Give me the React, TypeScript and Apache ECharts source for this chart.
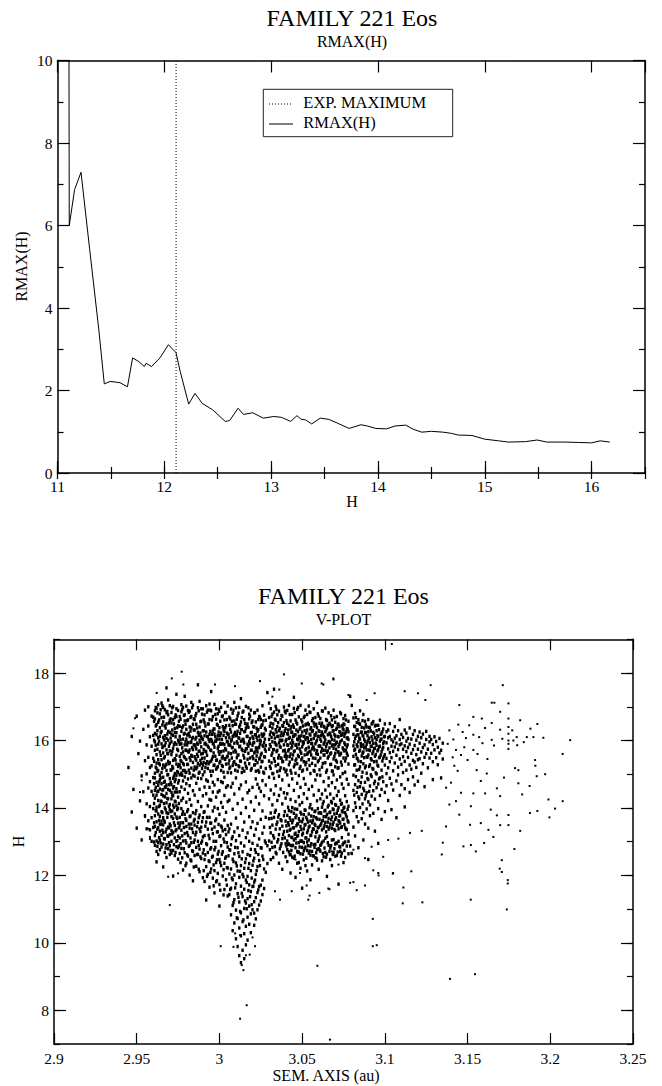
import React, { useEffect, useRef } from "react";
import * as echarts from "echarts";

// ---------- RMAX(H) panel ----------
const rmaxH = [11.105, 11.11, 11.16, 11.22, 11.3, 11.387, 11.438, 11.493, 11.584, 11.655, 11.703, 11.762, 11.813, 11.829, 11.88, 11.959, 12.038, 12.109, 12.149, 12.228, 12.287, 12.354, 12.453, 12.571, 12.611, 12.69, 12.741, 12.828, 12.927, 13.025, 13.096, 13.183, 13.242, 13.282, 13.32, 13.38, 13.46, 13.54, 13.62, 13.73, 13.84, 13.9, 13.98, 14.08, 14.16, 14.26, 14.33, 14.41, 14.5, 14.61, 14.69, 14.75, 14.88, 15.0, 15.13, 15.22, 15.38, 15.49, 15.58, 15.75, 15.88, 16.0, 16.08, 16.17];
const rmaxV = [14, 6.0, 6.87, 7.29, 5.45, 3.47, 2.16, 2.22, 2.19, 2.09, 2.79, 2.7, 2.58, 2.66, 2.58, 2.79, 3.11, 2.92, 2.46, 1.67, 1.93, 1.69, 1.53, 1.25, 1.27, 1.57, 1.42, 1.46, 1.33, 1.37, 1.35, 1.25, 1.39, 1.3, 1.29, 1.19, 1.33, 1.3, 1.21, 1.08, 1.17, 1.14, 1.08, 1.07, 1.14, 1.16, 1.06, 0.99, 1.01, 0.99, 0.96, 0.92, 0.91, 0.82, 0.78, 0.75, 0.76, 0.8, 0.75, 0.75, 0.74, 0.73, 0.78, 0.75];
const expMaximumH = 12.11;

// ---------- V-PLOT panel ----------
// columns: [a offset in 1/1000 au from 2.9, then H values in 1/100]
const vColsWest = [
  [45, 1520], [47, 1612, 1388], [48, 1455], [50, 1672, 1340], [51, 1561], [52, 1421, 1598], [53, 1495, 1305], [54, 1633, 1448],
  [55, 1540, 1377, 1690], [56, 1412, 1587, 1501, 1338], [57, 1643, 1459, 1362, 1550, 1700], [58, 1520, 1404, 1611, 1335, 1478],
  [59, 1583, 1449, 1672, 1371, 1525, 1301], [60, 1615, 1490, 1398, 1547, 1669, 1342, 1438],
  [61, 1318, 1452, 1596, 1377, 1664, 1503, 1429, 1571, 1345, 1688, 1489, 1621, 1289],
  [62, 1402, 1533, 1359, 1617, 1476, 1302, 1695, 1558, 1438, 1647, 1391, 1517, 1240, 1271],
  [63, 1467, 1341, 1589, 1654, 1422, 1511, 1382, 1608, 1297, 1543, 1706, 1449, 1262],
  [64, 1375, 1528, 1612, 1456, 1331, 1679, 1497, 1566, 1408, 1638, 1352, 1483, 1276, 1305],
  [65, 1543, 1419, 1668, 1361, 1590, 1472, 1319, 1627, 1505, 1440, 1711, 1389, 1284],
  [66, 1436, 1582, 1327, 1655, 1491, 1371, 1609, 1527, 1454, 1350, 1698, 1563, 1225, 1293],
  [67, 1358, 1614, 1479, 1400, 1552, 1691, 1308, 1521, 1643, 1433, 1585, 1462, 1268],
  [68, 1511, 1386, 1649, 1443, 1337, 1572, 1606, 1468, 1291, 1530, 1682, 1415, 1756, 1253],
  [69, 1427, 1561, 1343, 1676, 1499, 1384, 1627, 1455, 1538, 1316, 1601, 1720, 1279],
  [70, 1395, 1624, 1487, 1352, 1569, 1452, 1703, 1321, 1534, 1660, 1410, 1591, 1262, 1288],
  [71, 1469, 1333, 1596, 1427, 1652, 1513, 1374, 1558, 1301, 1683, 1446, 1619, 1266],
  [72, 1541, 1408, 1662, 1369, 1488, 1615, 1436, 1328, 1577, 1701, 1459, 1518, 1198, 1274],
  [73, 1382, 1636, 1502, 1447, 1348, 1593, 1668, 1420, 1546, 1311, 1478, 1624, 1259],
  [74, 1457, 1589, 1336, 1671, 1406, 1530, 1623, 1373, 1497, 1285, 1556, 1694, 1737, 1301],
  [75, 1523, 1399, 1644, 1474, 1355, 1601, 1432, 1570, 1316, 1689, 1505, 1248, 1282],
];

const vColsFunnel = [
  [76, 1612, 1498, 1671, 1553, 1527, 1642, 1448, 1372, 1311, 1265, 1589, 1347],
  [77, 1538, 1685, 1590, 1503, 1627, 1462, 1398, 1334, 1280, 1561, 1706, 1422],
  [78, 1566, 1643, 1511, 1698, 1604, 1429, 1356, 1302, 1389, 1532, 1216, 1480],
  [79, 1621, 1549, 1676, 1492, 1587, 1455, 1381, 1324, 1267, 1658, 1511, 1731],
  [80, 1505, 1633, 1571, 1702, 1544, 1417, 1363, 1296, 1345, 1604, 1472, 1236],
  [81, 1594, 1529, 1661, 1486, 1618, 1443, 1395, 1318, 1257, 1567, 1689],
  [82, 1549, 1687, 1612, 1503, 1572, 1466, 1340, 1374, 1289, 1640, 1425, 1201],
  [83, 1637, 1518, 1596, 1671, 1489, 1408, 1352, 1297, 1243, 1556, 1713],
  [84, 1573, 1648, 1535, 1609, 1705, 1451, 1386, 1327, 1271, 1497, 1184],
  [85, 1521, 1662, 1587, 1494, 1631, 1438, 1366, 1305, 1349, 1552, 1259],
  [86, 1609, 1542, 1680, 1516, 1575, 1473, 1392, 1328, 1283, 1227, 1648],
  [87, 1553, 1697, 1624, 1488, 1589, 1419, 1357, 1301, 1262, 1532, 1765],
  [88, 1640, 1506, 1568, 1716, 1601, 1455, 1379, 1338, 1278, 1211, 1527],
  [89, 1581, 1657, 1532, 1611, 1487, 1404, 1343, 1296, 1250, 1694, 1560],
  [90, 1527, 1629, 1694, 1562, 1498, 1436, 1371, 1314, 1266, 1193, 1603],
  [91, 1614, 1548, 1676, 1507, 1590, 1462, 1389, 1318, 1247, 1182, 1653],
  [92, 1566, 1703, 1625, 1531, 1442, 1358, 1294, 1226, 1588, 1127, 1483],
  [93, 1649, 1517, 1583, 1690, 1479, 1406, 1337, 1268, 1203, 1611],
  [94, 1597, 1662, 1536, 1618, 1461, 1372, 1309, 1241, 1165, 1708, 1425],
  [95, 1539, 1688, 1603, 1570, 1423, 1355, 1282, 1219, 1496, 1745],
  [96, 1628, 1552, 1671, 1509, 1447, 1391, 1324, 1257, 1192, 1591, 1476],
  [97, 1580, 1707, 1634, 1527, 1468, 1343, 1276, 1214, 1148, 1619, 1402],
  [98, 1663, 1598, 1541, 1694, 1432, 1367, 1301, 1238, 1181, 1515],
  [99, 1522, 1645, 1577, 1615, 1484, 1398, 1329, 1263, 1206, 1679, 1447],
  [100, 1604, 1559, 1686, 1533, 1451, 1381, 1315, 1247, 1173, 1638, 1109],
  [101, 1567, 1698, 1622, 1511, 1416, 1346, 1288, 1229, 1589, 1478],
  [102, 1641, 1523, 1590, 1673, 1475, 1402, 1332, 1270, 1198, 1553],
  [103, 1588, 1661, 1546, 1627, 1437, 1364, 1299, 1236, 1158, 1712, 1491],
  [104, 1530, 1683, 1608, 1572, 1461, 1387, 1321, 1255, 1187, 1644],
  [105, 1619, 1554, 1702, 1505, 1419, 1348, 1284, 1222, 1139, 1596, 1466],
  [106, 1608, 1541, 1669, 1587, 1517, 1423, 1338, 1276, 1204, 1143, 1645],
  [107, 1561, 1693, 1625, 1504, 1462, 1352, 1291, 1219, 1162, 1083, 1598],
  [108, 1644, 1579, 1526, 1681, 1396, 1315, 1248, 1187, 1111, 1036, 1612, 1473],
  [109, 1592, 1658, 1537, 1619, 1441, 1329, 1264, 1201, 1128, 1059, 1713],
  [110, 1529, 1697, 1614, 1566, 1370, 1303, 1237, 1175, 1097, 1012, 1648, 1489],
  [111, 1627, 1556, 1673, 1509, 1413, 1341, 1282, 1213, 1146, 1072, 989, 1591],
  [112, 1581, 1640, 1522, 1698, 1457, 1318, 1256, 1194, 1121, 1044, 962, 1606],
  [113, 1655, 1598, 1538, 1632, 1384, 1296, 1229, 1168, 1089, 1021, 941, 1724, 1468],
  [114, 1603, 1684, 1517, 1570, 1426, 1334, 1270, 1203, 1137, 1063, 978],
  [115, 1548, 1662, 1626, 1593, 1358, 1287, 1221, 1159, 1102, 1027, 953, 1509],
  [116, 1636, 1575, 1701, 1523, 1401, 1312, 1249, 1186, 1118, 1049, 994, 1477],
  [117, 1589, 1649, 1544, 1612, 1445, 1326, 1262, 1197, 1131, 1076, 1008],
  [118, 1664, 1531, 1597, 1678, 1374, 1301, 1235, 1172, 1109, 1055, 1452],
  [119, 1571, 1623, 1690, 1512, 1418, 1342, 1277, 1214, 1152, 1086, 1030],
  [120, 1611, 1552, 1658, 1586, 1461, 1359, 1295, 1230, 1167, 1098],
  [121, 1640, 1527, 1594, 1682, 1563, 1393, 1319, 1251, 1180, 1122, 1088, 1052],
  [122, 1578, 1655, 1509, 1617, 1541, 1432, 1337, 1268, 1203, 1134, 1071, 1486],
  [123, 1627, 1690, 1566, 1534, 1600, 1470, 1354, 1289, 1226, 1149, 1098],
  [124, 1545, 1613, 1671, 1580, 1506, 1412, 1308, 1244, 1167, 1112, 1459],
  [125, 1662, 1598, 1521, 1639, 1557, 1449, 1366, 1282, 1171, 1124],
  [126, 1586, 1647, 1703, 1538, 1612, 1391, 1325, 1257, 1186, 1143, 1481],
  [127, 1619, 1552, 1675, 1594, 1503, 1436, 1343, 1219, 1161],
  [128, 1568, 1631, 1517, 1660, 1585, 1468, 1372, 1296, 1209],
];

const vColsMiddle = [
  [129, 1742, 1288, 1235],
  [130, 1603, 1539, 1668, 1491, 1574, 1427, 1368, 1302, 1711],
  [131, 1651, 1582, 1517, 1625, 1694, 1453, 1385, 1326, 1247],
  [132, 1563, 1637, 1596, 1502, 1678, 1409, 1349, 1283],
  [133, 1618, 1546, 1684, 1573, 1488, 1441, 1372, 1311, 1752],
  [134, 1589, 1660, 1525, 1632, 1701, 1466, 1393, 1337, 1268],
  [135, 1641, 1571, 1508, 1612, 1676, 1422, 1358, 1299],
  [136, 1556, 1629, 1687, 1593, 1494, 1437, 1380, 1321, 1236],
  [137, 1614, 1548, 1662, 1580, 1519, 1456, 1365, 1287],
  [138, 1672, 1601, 1537, 1644, 1483, 1412, 1346, 1309, 1218],
  [139, 1587, 1653, 1516, 1620, 1699, 1445, 1377, 1330],
  [140, 1635, 1562, 1682, 1598, 1507, 1429, 1361, 1294, 1255],
  [141, 1620, 1553, 1689, 1587, 1498, 1651, 1442, 1378, 1331, 1302, 1241, 1276],
  [142, 1573, 1645, 1528, 1606, 1704, 1467, 1392, 1349, 1318, 1270, 1293],
  [143, 1658, 1592, 1511, 1634, 1560, 1425, 1363, 1337, 1289, 1207, 1262],
  [144, 1601, 1677, 1545, 1624, 1584, 1486, 1401, 1356, 1312, 1254, 1288],
  [145, 1639, 1567, 1695, 1522, 1613, 1452, 1384, 1341, 1305, 1728, 1251],
  [146, 1586, 1661, 1540, 1617, 1503, 1419, 1371, 1325, 1282, 1194, 1309],
  [147, 1649, 1578, 1692, 1531, 1604, 1473, 1396, 1352, 1316, 1236, 1271],
  [148, 1612, 1552, 1670, 1589, 1496, 1433, 1368, 1330, 1269, 1297, 1238],
  [149, 1567, 1638, 1704, 1523, 1599, 1461, 1387, 1345, 1302, 1221, 1264],
  [150, 1625, 1581, 1655, 1509, 1548, 1416, 1359, 1320, 1283, 1162, 1301],
  [151, 1593, 1668, 1537, 1612, 1487, 1442, 1380, 1338, 1297, 1246, 1273],
  [152, 1646, 1572, 1690, 1528, 1603, 1470, 1393, 1351, 1311, 1284, 1229],
  [153, 1608, 1559, 1677, 1631, 1515, 1428, 1366, 1327, 1274, 1213, 1299],
  [154, 1580, 1647, 1597, 1543, 1702, 1455, 1382, 1343, 1305, 1266],
  [155, 1634, 1566, 1616, 1683, 1502, 1410, 1361, 1318, 1260, 1187, 1287],
  [156, 1591, 1659, 1532, 1627, 1575, 1464, 1397, 1356, 1329, 1231, 1271],
  [157, 1652, 1578, 1694, 1511, 1606, 1438, 1374, 1337, 1291, 1258],
  [158, 1615, 1547, 1668, 1590, 1526, 1483, 1391, 1348, 1314, 1252, 1292],
  [159, 1570, 1638, 1601, 1713, 1498, 1421, 1367, 1330, 1277, 1245],
  [160, 1629, 1583, 1672, 1541, 1612, 1452, 1385, 1343, 1308, 1218, 1279],
  [161, 1604, 1548, 1665, 1583, 1497, 1427, 1386, 1348, 1289, 1272],
  [162, 1651, 1576, 1625, 1521, 1688, 1441, 1402, 1361, 1335, 1243, 1298],
  [163, 1589, 1642, 1557, 1612, 1478, 1419, 1374, 1340, 1302, 1255],
  [164, 1626, 1571, 1696, 1534, 1602, 1453, 1393, 1357, 1268, 1310],
  [165, 1565, 1637, 1590, 1512, 1659, 1432, 1381, 1345, 1315, 1197, 1263],
  [166, 1618, 1553, 1682, 1597, 1489, 1466, 1408, 1369, 1337, 1289],
  [167, 1593, 1647, 1529, 1621, 1560, 1441, 1388, 1352, 1281, 1247],
  [168, 1641, 1584, 1661, 1509, 1603, 1475, 1415, 1373, 1340, 1229, 1305],
  [169, 1577, 1629, 1545, 1690, 1498, 1428, 1395, 1358, 1306, 1268],
  [170, 1613, 1562, 1654, 1587, 1522, 1460, 1410, 1366, 1333, 1257, 1293],
  [171, 1637, 1595, 1536, 1671, 1483, 1437, 1384, 1349, 1296, 1259],
  [172, 1582, 1648, 1611, 1519, 1566, 1449, 1401, 1362, 1338, 1174, 1301],
  [173, 1625, 1558, 1683, 1596, 1492, 1423, 1378, 1355, 1271, 1284],
  [174, 1601, 1644, 1527, 1617, 1471, 1413, 1391, 1344, 1312, 1266],
  [175, 1649, 1573, 1632, 1548, 1665, 1458, 1399, 1367, 1238, 1296],
  [176, 1588, 1621, 1506, 1674, 1539, 1436, 1386, 1341, 1299, 1253],
  [177, 1635, 1562, 1607, 1581, 1485, 1419, 1373, 1336, 1287],
  [178, 1603, 1657, 1530, 1626, 1470, 1405, 1358, 1322, 1264, 1301],
  [179, 1731, 1287],
  [180, 1265, 1704],
];

const vColsEast = [
  [181, 1618, 1553, 1667, 1497, 1584, 1452, 1392, 1343],
  [182, 1574, 1641, 1528, 1606, 1469, 1680, 1415, 1317],
  [183, 1631, 1587, 1512, 1653, 1446, 1548, 1374],
  [184, 1596, 1662, 1539, 1617, 1481, 1433, 1359, 1282],
  [185, 1648, 1571, 1604, 1522, 1463, 1688, 1401],
  [186, 1583, 1625, 1554, 1492, 1639, 1440, 1368],
  [187, 1613, 1566, 1677, 1531, 1458, 1587, 1386, 1305],
  [188, 1657, 1598, 1519, 1624, 1476, 1427, 1352],
  [189, 1572, 1640, 1589, 1503, 1551, 1445, 1397],
  [190, 1626, 1557, 1662, 1484, 1601, 1418, 1340, 1247],
  [191, 1594, 1637, 1528, 1570, 1465, 1409, 1377],
  [192, 1649, 1582, 1611, 1542, 1493, 1435],
  [193, 1567, 1624, 1591, 1515, 1656, 1451, 1384],
  [194, 1608, 1553, 1643, 1479, 1577, 1426, 1331],
  [195, 1586, 1629, 1538, 1501, 1603, 1460],
  [196, 1645, 1573, 1612, 1524, 1471, 1398, 1295],
  [197, 1598, 1551, 1660, 1583, 1489, 1437],
  [198, 1621, 1566, 1604, 1512, 1455, 1366],
  [199, 1579, 1634, 1547, 1591, 1478],
  [200, 1612, 1558, 1649, 1527, 1446, 1389],
  [201, 1593, 1547, 1626, 1502, 1466], [202, 1631, 1575, 1519, 1608, 1422], [203, 1564, 1612, 1488, 1650, 1537],
  [204, 1602, 1549, 1583, 1471, 1395], [205, 1627, 1568, 1510, 1596, 1453], [206, 1581, 1641, 1533, 1607],
  [207, 1614, 1556, 1592, 1480, 1371], [208, 1573, 1629, 1521, 1498], [209, 1603, 1545, 1662, 1587, 1437],
  [210, 1590, 1618, 1529, 1469], [211, 1552, 1609, 1574, 1505], [212, 1631, 1584, 1538, 1457, 1403],
  [213, 1567, 1598, 1512, 1622], [214, 1606, 1550, 1579, 1484], [215, 1589, 1637, 1527, 1446],
  [216, 1562, 1604, 1515], [217, 1618, 1573, 1541, 1492], [218, 1585, 1629, 1536, 1468],
  [219, 1601, 1558, 1520], [220, 1574, 1612, 1543, 1479],
  [221, 1592, 1546, 1625], [222, 1566, 1608, 1503], [223, 1619, 1579, 1531], [224, 1587, 1550, 1463],
  [225, 1603, 1561, 1627], [226, 1574, 1519], [227, 1596, 1548, 1612], [228, 1562, 1603],
  [229, 1588, 1537, 1484], [230, 1611, 1572], [231, 1549, 1597], [232, 1580, 1528],
  [233, 1606, 1563], [234, 1571, 1489], [235, 1592, 1545],
];

// in-between columns of the dense core (same encoding)
const vColsInter = [
  [60.5, 1356, 1472, 1538, 1601, 1657, 1413, 1299], [61.5, 1392, 1521, 1586, 1643, 1461, 1327, 1698],
  [62.5, 1337, 1449, 1574, 1629, 1508, 1286, 1682], [63.5, 1404, 1532, 1598, 1661, 1477, 1363, 1312],
  [64.5, 1351, 1489, 1556, 1623, 1691, 1420, 1296], [65.5, 1386, 1517, 1579, 1646, 1453, 1334, 1703],
  [66.5, 1413, 1548, 1602, 1669, 1476, 1309, 1362], [67.5, 1329, 1461, 1593, 1637, 1527, 1395, 1281],
  [68.5, 1372, 1498, 1561, 1619, 1686, 1428, 1317], [69.5, 1405, 1531, 1583, 1652, 1469, 1341, 1297],
  [70.5, 1347, 1476, 1607, 1664, 1512, 1389, 1274], [71.5, 1391, 1523, 1568, 1631, 1697, 1438, 1323],
  [72.5, 1356, 1494, 1587, 1649, 1463, 1402, 1291], [73.5, 1418, 1542, 1611, 1676, 1485, 1332, 1268],
  [74.5, 1369, 1508, 1574, 1638, 1447, 1395, 1303], [75.5, 1341, 1481, 1596, 1657, 1529, 1413, 1287],
  [76.5, 1541, 1602, 1663, 1519, 1356, 1294, 1238], [77.5, 1578, 1638, 1692, 1497, 1381, 1317, 1252],
  [78.5, 1553, 1619, 1674, 1528, 1342, 1279], [79.5, 1596, 1648, 1506, 1571, 1368, 1303, 1229],
  [80.5, 1529, 1587, 1659, 1616, 1389, 1327, 1261], [81.5, 1566, 1621, 1683, 1512, 1352, 1286],
  [82.5, 1594, 1541, 1668, 1628, 1376, 1311, 1246], [83.5, 1553, 1606, 1579, 1697, 1338, 1273],
  [84.5, 1587, 1631, 1512, 1664, 1361, 1298, 1225], [85.5, 1546, 1604, 1673, 1582, 1383, 1320],
  [86.5, 1592, 1637, 1521, 1559, 1344, 1262], [87.5, 1568, 1615, 1688, 1503, 1371, 1289, 1218],
  [88.5, 1541, 1594, 1656, 1622, 1330, 1255], [89.5, 1606, 1547, 1678, 1517, 1359, 1302],
  [90.5, 1573, 1629, 1535, 1661, 1387, 1276, 1214], [91.5, 1592, 1643, 1520, 1568, 1346, 1261],
  [92.5, 1556, 1612, 1684, 1537, 1372, 1291, 1197], [93.5, 1603, 1531, 1649, 1579, 1319, 1243],
  [94.5, 1572, 1627, 1509, 1690, 1355, 1278, 1209], [95.5, 1545, 1598, 1661, 1618, 1337, 1254],
  [96.5, 1589, 1634, 1526, 1563, 1301, 1231, 1169], [97.5, 1553, 1611, 1677, 1598, 1362, 1283],
  [98.5, 1604, 1542, 1648, 1519, 1329, 1246, 1184], [99.5, 1567, 1625, 1583, 1692, 1351, 1271],
  [100.5, 1591, 1538, 1657, 1615, 1317, 1238, 1156], [101.5, 1548, 1603, 1671, 1526, 1342, 1263],
  [102.5, 1615, 1569, 1632, 1506, 1308, 1217, 1142], [103.5, 1576, 1638, 1544, 1683, 1336, 1251],
  [104.5, 1597, 1551, 1662, 1622, 1297, 1223, 1171], [105.5, 1563, 1618, 1531, 1587, 1329, 1258],
  [106.5, 1586, 1633, 1521, 1664, 1275, 1158], [107.5, 1548, 1602, 1657, 1579, 1309, 1192],
  [108.5, 1613, 1566, 1690, 1534, 1241, 1119], [109.5, 1571, 1624, 1512, 1648, 1283, 1163],
  [110.5, 1596, 1549, 1663, 1617, 1228, 1074], [111.5, 1557, 1608, 1681, 1525, 1267, 1135],
  [112.5, 1621, 1583, 1539, 1646, 1212, 1093], [113.5, 1574, 1632, 1505, 1668, 1249, 1147],
  [114.5, 1603, 1556, 1687, 1598, 1196, 1068], [115.5, 1568, 1627, 1533, 1651, 1238, 1124],
  [116.5, 1612, 1576, 1644, 1518, 1179, 1101], [117.5, 1583, 1639, 1562, 1697, 1221, 1155],
  [118.5, 1548, 1606, 1672, 1591, 1259, 1137], [119.5, 1624, 1571, 1517, 1653, 1192, 1113],
  [120.5, 1593, 1641, 1546, 1606, 1243, 1168], [121.5, 1566, 1617, 1683, 1528, 1276, 1186],
  [122.5, 1609, 1554, 1636, 1573, 1214], [123.5, 1578, 1632, 1511, 1662, 1262, 1157],
  [124.5, 1601, 1548, 1669, 1589, 1229], [125.5, 1562, 1619, 1537, 1645, 1281],
  [126.5, 1615, 1583, 1658, 1506, 1247], [127.5, 1574, 1636, 1551, 1604, 1302],
  [130.5, 1588, 1642, 1523, 1617, 1342, 1276], [131.5, 1556, 1609, 1671, 1534, 1369, 1298],
  [132.5, 1621, 1573, 1649, 1502, 1318, 1253], [133.5, 1594, 1538, 1663, 1607, 1387, 1285],
  [134.5, 1567, 1625, 1586, 1692, 1351, 1264], [135.5, 1612, 1548, 1653, 1529, 1373, 1306],
  [136.5, 1583, 1636, 1511, 1601, 1338, 1279], [137.5, 1547, 1599, 1674, 1624, 1362, 1294],
  [138.5, 1615, 1569, 1642, 1538, 1321, 1268], [139.5, 1571, 1628, 1553, 1687, 1389, 1311],
  [140.5, 1603, 1545, 1659, 1512, 1347, 1287], [141.5, 1586, 1631, 1569, 1619, 1402, 1356, 1292],
  [142.5, 1552, 1609, 1677, 1536, 1371, 1334, 1261], [143.5, 1624, 1578, 1641, 1503, 1389, 1313, 1274],
  [144.5, 1593, 1646, 1557, 1612, 1364, 1341, 1289], [145.5, 1569, 1617, 1683, 1528, 1397, 1322, 1257],
  [146.5, 1631, 1588, 1545, 1654, 1378, 1347, 1296], [147.5, 1602, 1556, 1626, 1698, 1353, 1318, 1268],
  [148.5, 1575, 1634, 1517, 1608, 1409, 1361, 1284], [149.5, 1614, 1562, 1661, 1543, 1382, 1336, 1302],
  [150.5, 1589, 1643, 1596, 1512, 1367, 1325, 1263], [151.5, 1557, 1611, 1672, 1629, 1394, 1349, 1279],
  [152.5, 1622, 1576, 1535, 1648, 1372, 1311, 1251], [153.5, 1594, 1651, 1563, 1607, 1358, 1333, 1288],
  [154.5, 1568, 1619, 1684, 1526, 1401, 1346, 1272], [155.5, 1603, 1557, 1638, 1591, 1376, 1319, 1294],
  [156.5, 1581, 1629, 1548, 1665, 1363, 1338, 1258], [157.5, 1617, 1572, 1643, 1509, 1389, 1352, 1283],
  [158.5, 1596, 1648, 1561, 1622, 1371, 1327, 1267], [159.5, 1559, 1612, 1679, 1537, 1398, 1341, 1301],
  [160.5, 1627, 1584, 1651, 1513, 1366, 1316, 1276], [161.5, 1598, 1643, 1566, 1615, 1384, 1353, 1292],
  [162.5, 1571, 1618, 1687, 1532, 1412, 1363, 1265], [163.5, 1609, 1557, 1639, 1594, 1391, 1347, 1281],
  [164.5, 1582, 1631, 1506, 1662, 1374, 1329, 1254], [165.5, 1617, 1569, 1645, 1548, 1403, 1358, 1297],
  [166.5, 1596, 1651, 1578, 1621, 1386, 1342, 1271], [167.5, 1563, 1612, 1673, 1529, 1419, 1365, 1288],
  [168.5, 1628, 1587, 1644, 1509, 1397, 1351, 1262], [169.5, 1601, 1553, 1617, 1668, 1382, 1336, 1279],
  [170.5, 1574, 1633, 1592, 1541, 1408, 1371, 1295], [171.5, 1612, 1566, 1648, 1518, 1393, 1348, 1269],
  [172.5, 1589, 1641, 1557, 1626, 1376, 1359, 1286], [173.5, 1562, 1615, 1679, 1536, 1411, 1342, 1257],
  [174.5, 1621, 1578, 1637, 1502, 1388, 1366, 1291], [175.5, 1593, 1647, 1569, 1612, 1402, 1351, 1274],
  [176.5, 1571, 1626, 1548, 1661, 1379, 1337], [177.5, 1608, 1556, 1634, 1587, 1396, 1362],
  [181.5, 1596, 1642, 1527, 1571, 1438], [182.5, 1613, 1559, 1668, 1493, 1402],
  [183.5, 1582, 1631, 1546, 1617, 1461], [184.5, 1607, 1568, 1651, 1514, 1427],
  [185.5, 1591, 1624, 1537, 1582, 1475], [186.5, 1615, 1562, 1659, 1506, 1412],
  [187.5, 1578, 1637, 1549, 1603, 1451], [188.5, 1623, 1581, 1524, 1646, 1436],
  [189.5, 1596, 1551, 1614, 1487], [190.5, 1607, 1572, 1639, 1523, 1449],
  [191.5, 1583, 1628, 1546, 1498], [192.5, 1601, 1561, 1652, 1517],
  [193.5, 1576, 1619, 1537, 1472], [194.5, 1592, 1645, 1558, 1504],
  [195.5, 1614, 1569, 1527], [196.5, 1581, 1632, 1549, 1486],
  [197.5, 1603, 1557, 1618], [198.5, 1574, 1626, 1539, 1492], [199.5, 1596, 1553, 1611],
];

// individual points [a (au), H]
const vSparseEast = [
  [3.145, 17.05], [3.1535, 16.7], [3.1586, 16.65], [3.1646, 17.12], [3.1662, 17.12], [3.1713, 17.64], [3.1747, 17.1], [3.1747, 16.65],
  [3.1747, 16.4], [3.1747, 16.2], [3.1747, 15.9], [3.1697, 16.85], [3.1818, 16.6], [3.1922, 16.49], [3.1958, 16.08], [3.212, 16.01],
  [3.2075, 15.6], [3.1898, 16.1], [3.1858, 16.1], [3.1797, 16.1], [3.18, 15.86], [3.1777, 16.0], [3.1908, 15.42], [3.1807, 15.12],
  [3.1918, 14.94], [3.1969, 15.0], [3.1989, 14.25], [3.2075, 14.2], [3.2029, 13.98], [3.1995, 13.72], [3.1922, 13.91], [3.1877, 13.85],
  [3.1818, 13.32], [3.1783, 12.78], [3.1747, 13.79], [3.1747, 13.49], [3.1707, 12.45], [3.1694, 12.2], [3.1697, 13.49], [3.1656, 13.14],
  [3.1626, 13.35], [3.16, 12.96], [3.158, 13.55], [3.152, 12.9], [3.1475, 12.86], [3.145, 13.8], [3.1535, 14.43], [3.1606, 14.43],
  [3.1677, 14.58], [3.1697, 14.35], [3.1807, 14.73], [3.1787, 15.18], [3.1875, 14.65], [3.191, 15.25], [3.1616, 15.02], [3.1555, 15.12],
  [3.15, 15.42], [3.146, 15.57], [3.1535, 15.72], [3.159, 15.92], [3.1646, 16.02], [3.1697, 16.32], [3.1646, 16.52], [3.1606, 16.37],
  [3.1535, 16.17], [3.149, 16.07], [3.1444, 16.47], [3.1414, 16.03], [3.143, 15.72], [3.142, 15.25], [3.14, 14.75], [3.143, 14.2],
  [3.137, 13.45], [3.135, 12.97], [3.1515, 13.5], [3.1677, 13.78], [3.138, 15.9], [3.139, 16.3], [3.141, 15.5], [3.144, 15.1],
  [3.147, 16.25], [3.148, 15.8], [3.151, 16.45], [3.156, 15.6], [3.157, 16.1], [3.162, 15.45], [3.166, 15.85], [3.171, 16.05],
  [3.1747, 16.0], [3.1747, 15.75], [3.177, 16.3], [3.184, 15.95], [3.188, 16.35], [3.137, 14.6], [3.139, 14.1], [3.146, 14.45],
  [3.152, 14.05], [3.158, 14.8], [3.164, 13.95], [3.172, 14.9], [3.183, 14.4],
];

const vSparseLow = [
  [3.1152, 13.26], [3.1223, 13.32], [3.1082, 13.09], [3.099, 12.55], [3.092, 12.85], [3.088, 12.51], [3.081, 12.76], [3.1344, 12.62],
  [3.155, 12.71], [3.102, 13.05], [3.093, 12.15], [3.0962, 12.0], [3.1048, 12.05], [3.116, 12.12], [3.105, 12.07], [3.096, 12.07],
  [3.1112, 11.64], [3.088, 11.7], [3.083, 11.56], [3.079, 11.78], [3.081, 11.8], [3.0665, 11.59], [3.0604, 11.48], [3.0527, 11.7],
  [3.0545, 11.4], [3.0537, 11.28], [3.0658, 11.61], [3.0366, 11.28], [3.0336, 11.53], [3.0437, 11.53], [3.0487, 12.07], [3.046, 12.47],
  [3.0588, 12.52], [3.068, 12.71], [3.072, 12.32], [3.0797, 12.66],
];

const vOutliers = [
  [2.97, 11.12], [2.975, 12.06], [2.969, 11.96], [2.958, 13.14], [3.0008, 9.9], [3.0125, 10.23], [3.016, 9.63], [3.0135, 9.34],
  [3.0145, 9.19], [3.0165, 8.15], [3.0125, 7.75], [3.0183, 9.65], [3.0215, 9.9], [3.02, 10.16], [3.0085, 9.88], [3.0095, 10.28],
  [3.0592, 9.32], [3.0927, 10.71], [3.0927, 9.9], [3.0951, 9.93], [3.1394, 8.93], [3.1545, 9.07], [3.1108, 11.17], [3.1227, 11.2],
  [3.1519, 11.28], [3.1737, 10.99], [3.1743, 11.86], [3.1743, 11.76], [3.1707, 12.1], [3.0668, 7.13],
  [3.1042, 18.86], [3.0689, 17.81], [3.0618, 17.69], [3.032, 17.3], [3.0938, 17.4], [3.089, 17.2], [3.112, 17.46], [3.12, 17.4],
  [3.1277, 17.64], [3.1245, 17.2], [3.078, 17.35], [2.9772, 18.04], [2.9712, 17.84], [3.039, 17.96], [3.0498, 17.69], [3.0689, 17.84],
  [3.0245, 17.76], [2.9973, 17.66], [3.0094, 17.61], [2.9782, 17.66], [2.9621, 17.41], [3.0362, 17.51], [3.0628, 17.66],
  [2.949, 16.66], [2.948, 16.36], [2.953, 14.82], [2.952, 14.47], [2.955, 13.73], [2.958, 13.08], [2.957, 13.38],
];

const vTicksMajor = [8, 10, 12, 14, 16, 18];

const FONT = "Liberation Serif";

function colsToPoints(cols: number[][]): number[][] {
  const pts: number[][] = [];
  cols.forEach((c) => {
    const a = Number((2.9 + c[0] / 1000).toFixed(4));
    for (let i = 1; i < c.length; i++) pts.push([a, c[i] / 100]);
  });
  return pts;
}

export default function App() {
  const ref = useRef<HTMLDivElement>(null);

  useEffect(() => {
    document.body.style.margin = "0";
    if (!ref.current) return;
    const chart = echarts.init(ref.current, undefined, { renderer: "svg" });

    const black = "#000";
    const axisLine = { show: true, onZero: false, lineStyle: { color: black, width: 1.5 } };
    const tick = (len: number) => ({ show: true, inside: true, length: len, lineStyle: { color: black, width: 1.2 } });
    const lbl = (margin: number) => ({ color: black, fontFamily: FONT, fontSize: 15.5, margin });
    const noLabel = { show: false };
    const noSplit = { show: false };

    const denseData = [
      ...colsToPoints(vColsWest),
      ...colsToPoints(vColsFunnel),
      ...colsToPoints(vColsMiddle),
      ...colsToPoints(vColsEast),
      ...colsToPoints(vColsInter),
    ];
    const sparseData = [...vSparseEast, ...vSparseLow, ...vOutliers];

    const txt = (text: string, x: number, y: number, size: number, align = "center", rotation = 0) => ({
      type: "text",
      x,
      y,
      rotation,
      z: 100,
      style: { text, fill: black, fontFamily: FONT, fontSize: size, align, verticalAlign: "middle" },
    });

    const option: any = {
      animation: false,
      backgroundColor: "#fff",
      textStyle: { fontFamily: FONT },
      grid: [
        { left: 57.5, top: 60.5, width: 587.5, height: 412.5 },
        { left: 54, top: 639.3, width: 579, height: 404.7 },
      ],
      xAxis: [
        { gridIndex: 0, type: "value", min: 11, max: 16.5, interval: 1, position: "bottom", axisLine, axisTick: tick(12), axisLabel: { ...lbl(5), showMaxLabel: false }, splitLine: noSplit },
        { gridIndex: 0, type: "value", min: 11, max: 16.5, interval: 1, position: "top", axisLine, axisTick: tick(12), axisLabel: noLabel, splitLine: noSplit },
        { gridIndex: 0, type: "value", min: 11, max: 16.5, interval: 0.5, position: "bottom", axisLine: { show: false }, axisTick: tick(6), axisLabel: noLabel, splitLine: noSplit },
        { gridIndex: 0, type: "value", min: 11, max: 16.5, interval: 0.5, position: "top", axisLine: { show: false }, axisTick: tick(6), axisLabel: noLabel, splitLine: noSplit },
        { gridIndex: 1, type: "value", min: 2.9, max: 3.25, interval: 0.05, position: "bottom", axisLine, axisTick: tick(11), axisLabel: lbl(6), splitLine: noSplit },
        { gridIndex: 1, type: "value", min: 2.9, max: 3.25, interval: 0.05, position: "top", axisLine, axisTick: tick(11), axisLabel: noLabel, splitLine: noSplit },
      ],
      yAxis: [
        { gridIndex: 0, type: "value", min: 0, max: 10, interval: 2, position: "left", axisLine, axisTick: tick(12), minorTick: { show: true, splitNumber: 2, length: 6, lineStyle: { color: black, width: 1.2 } }, axisLabel: lbl(5), splitLine: noSplit, minorSplitLine: noSplit },
        { gridIndex: 0, type: "value", min: 0, max: 10, interval: 2, position: "right", axisLine, axisTick: tick(12), minorTick: { show: true, splitNumber: 2, length: 6, lineStyle: { color: black, width: 1.2 } }, axisLabel: noLabel, splitLine: noSplit, minorSplitLine: noSplit },
        { gridIndex: 1, type: "value", min: 7, max: 19, position: "left", axisLine, axisTick: { ...tick(12), customValues: vTicksMajor }, axisLabel: { ...lbl(5), customValues: vTicksMajor }, splitLine: noSplit },
        { gridIndex: 1, type: "value", min: 7, max: 19, position: "right", axisLine, axisTick: { ...tick(12), customValues: vTicksMajor }, axisLabel: noLabel, splitLine: noSplit },
        { gridIndex: 1, type: "value", min: 7, max: 19, interval: 1, position: "left", axisLine: { show: false }, axisTick: tick(6), axisLabel: noLabel, splitLine: noSplit },
        { gridIndex: 1, type: "value", min: 7, max: 19, interval: 1, position: "right", axisLine: { show: false }, axisTick: tick(6), axisLabel: noLabel, splitLine: noSplit },
      ],
      series: [
        {
          name: "EXP. MAXIMUM",
          type: "line",
          xAxisIndex: 0,
          yAxisIndex: 0,
          data: [[expMaximumH, 0], [expMaximumH, 10]],
          symbol: "none",
          lineStyle: { color: black, width: 1, type: [1, 2] },
          silent: true,
        },
        {
          name: "RMAX(H)",
          type: "line",
          xAxisIndex: 0,
          yAxisIndex: 0,
          data: rmaxH.map((h, i) => [h, rmaxV[i]]),
          symbol: "none",
          clip: true,
          lineStyle: { color: black, width: 1 },
          silent: true,
        },
        {
          name: "V-PLOT",
          type: "scatter",
          xAxisIndex: 4,
          yAxisIndex: 2,
          data: denseData,
          symbol: "rect",
          symbolSize: [2.4, 3.4],
          itemStyle: { color: black, opacity: 1 },
          silent: true,
        },
        {
          name: "V-PLOT sparse",
          type: "scatter",
          xAxisIndex: 4,
          yAxisIndex: 2,
          data: sparseData,
          symbol: "rect",
          symbolSize: 2,
          itemStyle: { color: black, opacity: 1 },
          silent: true,
        },
      ],
      graphic: [
        txt("FAMILY 221 Eos", 352, 17.9, 24),
        txt("RMAX(H)", 352, 41.3, 16),
        txt("H", 352, 501.3, 16),
        txt("RMAX(H)", 21, 266.5, 16, "center", Math.PI / 2),
        txt("FAMILY 221 Eos", 343.5, 596.2, 24),
        txt("V-PLOT", 343.5, 619.6, 16),
        txt("SEM. AXIS (au)", 326, 1075.5, 16),
        txt("H", 18, 841.5, 16, "center", Math.PI / 2),
        {
          type: "rect",
          z: 90,
          shape: { x: 263.3, y: 89.3, width: 189.4, height: 47.4 },
          style: { fill: "#fff", stroke: "#222", lineWidth: 1 },
        },
        {
          type: "line",
          z: 100,
          shape: { x1: 269, y1: 104, x2: 293, y2: 104 },
          style: { stroke: black, lineWidth: 1, lineDash: [1, 2] },
        },
        {
          type: "line",
          z: 100,
          shape: { x1: 269, y1: 124, x2: 293, y2: 124 },
          style: { stroke: black, lineWidth: 1 },
        },
        txt("EXP. MAXIMUM", 303.3, 102.9, 16.5, "left"),
        txt("RMAX(H)", 303.3, 122.6, 16.5, "left"),
      ],
    };

    chart.setOption(option);
    return () => chart.dispose();
  }, []);

  return <div ref={ref} style={{ width: 662, height: 1086 }} />;
}
